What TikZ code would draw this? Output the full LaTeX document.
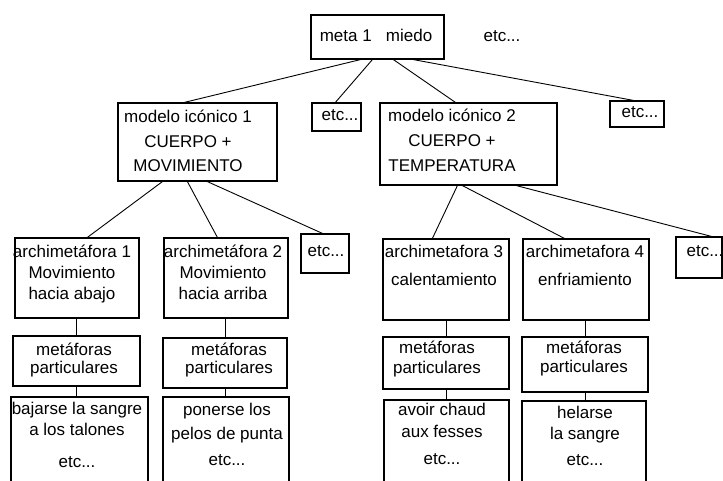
\documentclass[tikz,border=0pt]{standalone}
\usepackage{fontspec}
\setmainfont{Liberation Sans}
\usetikzlibrary{positioning}
\tikzset{box/.style={draw,line width=1.2pt,inner sep=0pt},
  txt/.style={align=center,anchor=base,inner sep=0pt},
  link/.style={line width=0.9pt}}

\begin{document}
\begin{tikzpicture}[x=1pt,y=-1pt]
  \useasboundingbox (0,0) rectangle (723,481);
  \clip (0,0) rectangle (723,481);
  % level 0
  \node[box,minimum width=133pt,minimum height=44pt] (meta) at (377.5,37) {};
  \node[txt,font=\fontsize{17}{20}\selectfont] (meta-t) at (376,42) {meta 1~~~miedo};
  \node[txt,font=\fontsize{17}{20}\selectfont] (etc0) at (502,42) {etc...};
  % level 1 (text nodes sit on the baseline of their last line)
  \node[box,minimum width=159pt,minimum height=78pt] (mod1) at (197.5,142) {};
  \node[box,minimum width=49pt,minimum height=28pt] (etc1) at (336.5,117) {};
  \node[box,minimum width=177pt,minimum height=82pt] (mod2) at (468.5,144) {};
  \node[box,minimum width=54pt,minimum height=26pt] (etc2) at (637,114) {};
  \node[txt,font=\fontsize{17}{24.5}\selectfont] (mod1-t) at (188,172) {modelo icónico 1\\CUERPO +\\MOVIMIENTO};
  \node[txt,font=\fontsize{17}{20}\selectfont] (etc1-t) at (340,121) {etc...};
  \node[txt,font=\fontsize{17}{25}\selectfont] (mod2-t) at (452,172) {modelo icónico 2\\CUERPO +\\TEMPERATURA};
  \node[txt,font=\fontsize{17}{20}\selectfont] (etc2-t) at (640,118) {etc...};
  % level 2
  \node[box,minimum width=124pt,minimum height=80pt] (am1) at (77,278) {};
  \node[box,minimum width=124pt,minimum height=80pt] (am2) at (226,278) {};
  \node[box,minimum width=48pt,minimum height=39pt] (etc3) at (325,253.5) {};
  \node[box,minimum width=126pt,minimum height=81pt] (am3) at (446,279.5) {};
  \node[box,minimum width=126pt,minimum height=81pt] (am4) at (586,279.5) {};
  \node[box,minimum width=46pt,minimum height=41pt] (etc4) at (699,257.5) {};
  \node[txt,font=\fontsize{17}{21}\selectfont] (am1-t) at (72,299) {archimetáfora 1\\Movimiento\\hacia abajo};
  \node[txt,font=\fontsize{17}{21}\selectfont] (am2-t) at (223,299) {archimetáfora 2\\Movimiento\\hacia arriba};
  \node[txt,font=\fontsize{17}{20}\selectfont] (etc3-t) at (326,257) {etc...};
  \node[txt,font=\fontsize{17}{28}\selectfont] (am3-t) at (444,285) {archimetafora 3\\calentamiento};
  \node[txt,font=\fontsize{17}{28}\selectfont] (am4-t) at (585,285) {archimetafora 4\\enfriamiento};
  \node[txt,font=\fontsize{17}{20}\selectfont] (etc4-t) at (705,257) {etc...};
  % level 3
  \node[box,minimum width=127pt,minimum height=50pt] (m1) at (76.5,361) {};
  \node[box,minimum width=124pt,minimum height=50pt] (m2) at (225,363) {};
  \node[box,minimum width=126pt,minimum height=52pt] (m3) at (446,363) {};
  \node[box,minimum width=126pt,minimum height=55pt] (m4) at (585,364.5) {};
  \node[txt,font=\fontsize{17}{17.5}\selectfont] (m1-t) at (74,373) {metáforas\\particulares};
  \node[txt,font=\fontsize{17}{18}\selectfont] (m2-t) at (229,373) {metáforas\\particulares};
  \node[txt,font=\fontsize{17}{20}\selectfont] (m3-t) at (437,373) {metáforas\\particulares};
  \node[txt,font=\fontsize{17}{19}\selectfont] (m4-t) at (584,372) {metáforas\\particulares};
  % level 4
  \node[box,minimum width=137pt,minimum height=103pt] (b1) at (79.5,448.5) {};
  \node[box,minimum width=126pt,minimum height=103pt] (b2) at (226,448.5) {};
  \node[box,minimum width=125pt,minimum height=103pt] (b3) at (446.5,451.5) {};
  \node[box,minimum width=124pt,minimum height=103pt] (b4) at (584,452.5) {};
  \node[txt,font=\fontsize{17}{21}\selectfont] (b1-t) at (77,467) {bajarse la sangre\\a los talones\\[11pt]etc...};
  \node[txt,font=\fontsize{17}{24}\selectfont] (b2-t) at (227,465) {ponerse los\\pelos de punta\\[2pt]etc...};
  \node[txt,font=\fontsize{17}{22}\selectfont] (b3-t) at (442,464) {avoir chaud\\aux fesses\\[5pt]etc...};
  \node[txt,font=\fontsize{17}{21}\selectfont] (b4-t) at (585,465) {helarse\\la sangre\\[5pt]etc...};
  % connectors
  \path[link]
    ([xshift=50pt]meta.south west) edge ([xshift=67pt]mod1.north west)
    ([xshift=62pt]meta.south west) edge ([xshift=24pt]etc1.north west)
    ([xshift=83pt]meta.south west) edge ([xshift=76pt]mod2.north west)
    ([xshift=103pt]meta.south west) edge ([xshift=24pt]etc2.north west)
    ([xshift=45pt]mod1.south west) edge ([xshift=73pt]am1.north west)
    ([xshift=70pt]mod1.south west) edge ([xshift=54pt]am2.north west)
    ([xshift=90pt]mod1.south west) edge ([xshift=22pt]etc3.north west)
    ([xshift=78pt]mod2.south west) edge ([xshift=50pt]am3.north west)
    ([xshift=83pt]mod2.south west) edge ([xshift=42pt]am4.north west)
    ([xshift=137pt]mod2.south west) edge ([xshift=36pt]etc4.north west)
    (m1.north |- am1.south) edge (m1.north)
    (m2.north |- am2.south) edge (m2.north)
    (m3.north |- am3.south) edge (m3.north)
    (m4.north |- am4.south) edge (m4.north)
    (m1.south) edge (m1.south |- b1.north)
    (m2.south) edge (m2.south |- b2.north)
    (m3.south) edge (m3.south |- b3.north)
    (m4.south) edge (m4.south |- b4.north)
  ;
\end{tikzpicture}
\end{document}
